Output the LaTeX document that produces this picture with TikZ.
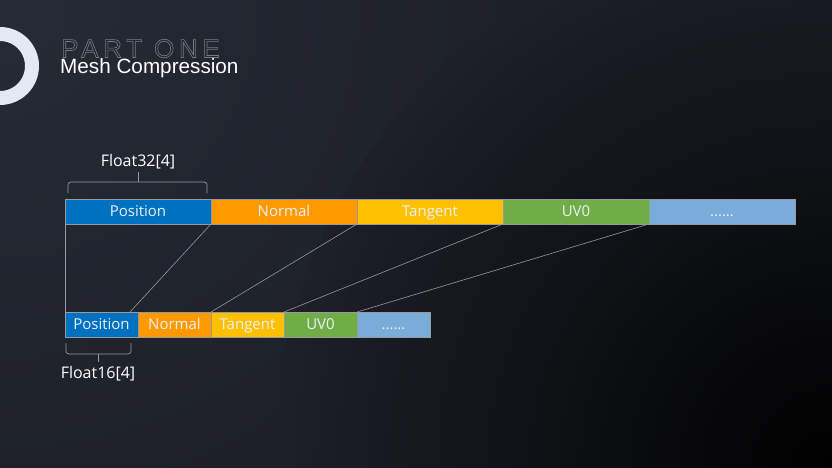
\documentclass[tikz,border=0pt]{standalone}
\usepackage{fontspec}
\setmainfont{Open Sans}
\newfontfamily\titlefont{Liberation Sans}
\newfontfamily\partfont[LetterSpace=18]{Liberation Sans}
\usepackage{tikz}
\usetikzlibrary{positioning, calc}
\definecolor{posblue}{RGB}{0,112,192}
\definecolor{normorange}{RGB}{255,153,0}
\definecolor{tanyellow}{RGB}{255,192,0}
\definecolor{uvgreen}{RGB}{112,173,71}
\definecolor{restblue}{RGB}{122,172,218}
\definecolor{edgegray}{RGB}{150,155,162}
\definecolor{linkgray}{RGB}{150,152,156}
\definecolor{bgtop}{RGB}{38,43,54}
\definecolor{bgmid}{RGB}{29,32,40}
\definecolor{ringcol}{RGB}{226,233,242}
\definecolor{boxtext}{RGB}{236,241,248}
\definecolor{partgray}{RGB}{120,125,134}
\tikzstyle{field} = [rectangle,
minimum height=25,
inner sep=0, outer sep=0,
text height=12, text depth=3,
draw=edgegray, line width=0.5,
text=boxtext,
font=\fontsize{15}{15}\selectfont]
\tikzstyle{wide} = [field, minimum width=146]
\tikzstyle{narrow} = [field, minimum width=73]
\tikzstyle{link} = [linkgray, line width=0.6]
\tikzstyle{brc} = [edgegray, line width=0.7, rounded corners=3]
\tikzstyle{tag} = [text=white, inner sep=0,
font=\fontsize{16}{16}\selectfont]

\begin{document}
\begin{tikzpicture}[x=1pt, y=1pt]
                \begin{scope}
                \clip (0,0) rectangle (832,-468);
                \fill[bgmid] (0,0) rectangle (832,-468);
                \shade[inner color=bgtop, outer color=bgmid] (0,0) circle (520);
                \shade[inner color=black, outer color=bgmid] (832,-468) circle (560);
                \end{scope}
                \useasboundingbox (0,0) rectangle (832,-468);
                \draw[ringcol, line width=14] (0,-66) circle (32);

                \node (part) [anchor=base west, inner sep=0, text=partgray, font=\partfont\fontsize{26}{26}\selectfont] at (61,-57.5) {\special{pdf:literal direct 1 Tr 0.6 w}PART ONE\special{pdf:literal direct 0 Tr}};
                \node (title) [anchor=base west, inner sep=0, text=white, font=\titlefont\fontsize{20.7}{20.7}\selectfont] at (60,-74) {Mesh Compression};

                \node (pos32) [wide, fill=posblue, anchor=west] at (65,-211.5) {Position};
                \node (norm32) [wide, fill=normorange, right=0pt of pos32] {Normal};
                \node (tan32) [wide, fill=tanyellow, right=0pt of norm32] {Tangent};
                \node (uv32) [wide, fill=uvgreen, right=0pt of tan32] {UV0};
                \node (rest32) [wide, fill=restblue, right=0pt of uv32] {......};

                \node (pos16) [narrow, fill=posblue, anchor=west] at (65,-324.5) {Position};
                \node (norm16) [narrow, fill=normorange, right=0pt of pos16] {Normal};
                \node (tan16) [narrow, fill=tanyellow, right=0pt of norm16] {Tangent};
                \node (uv16) [narrow, fill=uvgreen, right=0pt of tan16] {UV0};
                \node (rest16) [narrow, fill=restblue, right=0pt of uv16] {......};

                \draw [link] (pos32.south west) -- (pos16.north west);
                \draw [link] (norm32.south west) -- ([xshift=-8]pos16.north east);
                \draw [link] (tan32.south west) -- (norm16.north east);
                \draw [link] (uv32.south west) -- (tan16.north east);
                \draw [link] (rest32.south west) -- (uv16.north east);

                \draw [brc] ([shift={(3,6)}]pos32.north west) -- ++(0,11) -| ([shift={(-4,6)}]pos32.north east);
                \draw [brc] ([yshift=17]pos32.north) -- ++(0,10) coordinate (tip32);
                \node (lbl32) [tag, above=3pt of tip32] {Float32[4]};

                \draw [brc] ([shift={(1,-6)}]pos16.south west) -- ++(0,-11) -| ([shift={(-7,-6)}]pos16.south east);
                \draw [brc] ([shift={(-3.5,-17)}]pos16.south) -- ++(0,-8) coordinate (tip16);
                \node (lbl16) [tag, below=4pt of tip16] {Float16[4]};
            \end{tikzpicture}
\end{document}
